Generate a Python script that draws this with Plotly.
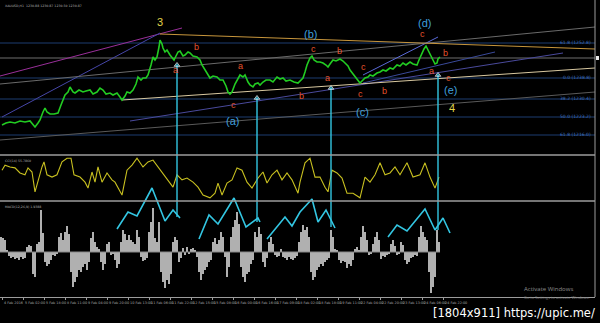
import plotly.graph_objects as go

# ---------------- data ----------------
price_x = [2, 6, 10, 15, 20, 25, 30, 33, 35, 38,
           40, 43, 45, 47, 50, 54, 58, 61, 65, 68,
           70, 73, 75, 79, 83, 86, 90, 93, 97, 100,
           103, 106, 110, 113, 117, 120, 122, 125, 127, 130,
           133, 136, 138, 141, 143, 146, 148, 151, 153, 155,
           157, 159, 160, 162, 163, 165, 167, 170, 172, 174,
           175, 178, 180, 183, 185, 188, 190, 193, 197, 200,
           202, 205, 207, 209, 210, 213, 217, 220, 223, 226,
           228, 230, 232, 235, 237, 239, 240, 243, 245, 248,
           250, 253, 255, 258, 260, 263, 266, 270, 273, 277,
           280, 283, 286, 290, 294, 298, 300, 303, 305, 307,
           310, 312, 314, 317, 320, 323, 326, 328, 330, 333,
           336, 340, 343, 345, 348, 350, 353, 355, 358, 360,
           362, 365, 368, 370, 373, 377, 380, 383, 386, 390,
           393, 397, 400, 403, 406, 410, 413, 417, 419, 422,
           424, 426, 428, 430, 432, 433, 435, 437, 438, 440]
price = [1220.0, 1220.8, 1221.2, 1220.8, 1221.6, 1221.2, 1221.6, 1220.4, 1219.2, 1220.8,
         1222.0, 1225.2, 1226.8, 1225.2, 1224.4, 1224.4, 1224.8, 1228.0, 1232.0, 1233.2,
         1235.2, 1233.2, 1232.8, 1234.0, 1233.2, 1233.6, 1234.0, 1232.4, 1233.2, 1234.8,
         1234.0, 1232.4, 1232.8, 1232.0, 1232.8, 1231.2, 1230.0, 1231.6, 1233.2, 1232.8,
         1234.0, 1236.4, 1239.2, 1238.0, 1238.8, 1238.8, 1240.0, 1244.0, 1247.2, 1246.0,
         1247.2, 1251.2, 1254.0, 1252.4, 1250.8, 1249.2, 1250.0, 1248.0, 1247.2, 1246.0,
         1246.8, 1249.2, 1249.6, 1247.6, 1248.0, 1249.2, 1248.8, 1247.6, 1247.2, 1246.0,
         1244.0, 1242.0, 1241.2, 1239.6, 1238.8, 1239.6, 1239.2, 1238.0, 1238.0, 1235.6,
         1233.2, 1232.4, 1233.2, 1236.4, 1238.0, 1239.2, 1240.0, 1239.2, 1240.0, 1237.2,
         1236.0, 1235.2, 1236.4, 1236.8, 1236.0, 1237.2, 1238.0, 1238.0, 1237.2, 1239.2,
         1238.4, 1238.8, 1237.6, 1238.0, 1237.2, 1236.8, 1237.6, 1238.8, 1241.2, 1244.0,
         1246.8, 1247.6, 1246.0, 1245.2, 1245.2, 1244.8, 1244.0, 1243.2, 1244.4, 1246.0,
         1245.6, 1246.4, 1245.6, 1244.8, 1243.6, 1242.0, 1240.4, 1239.2, 1238.0, 1236.8,
         1237.6, 1238.8, 1239.2, 1240.0, 1239.6, 1240.8, 1241.2, 1242.0, 1241.6, 1242.8,
         1242.4, 1244.0, 1243.6, 1244.8, 1244.0, 1245.2, 1244.4, 1244.0, 1246.0, 1248.8,
         1250.4, 1251.6, 1250.0, 1248.8, 1246.8, 1246.0, 1244.4, 1244.8, 1246.4, 1247.2]

osc_x = [2, 5, 10, 15, 20, 25, 28, 32, 35, 38, 42, 44, 47, 52, 57, 62, 67, 71, 74, 80, 85, 88, 92, 95, 98, 102,
         107, 112, 115, 122, 127, 132, 137, 143, 148, 153, 158, 163, 170, 173, 177, 182, 187, 193, 198, 203, 210,
         215, 218, 222, 227, 232, 237, 242, 247, 252, 258, 263, 267, 272, 277, 282, 287, 292, 298, 300, 305, 310,
         315, 320, 325, 328, 332, 337, 342, 347, 353, 360, 365, 370, 375, 380, 385, 390, 395, 400, 407, 413, 420,
         425, 430, 435, 439]
osc = [67, 78, 74, 72, 61, 57, 72, 63, 20, 46, 74, 85, 57, 52, 57, 85, 93, 93, 57, 52, 41, 28, 63, 41, 74, 41,
       61, 46, 41, 13, 67, 78, 93, 74, 85, 89, 74, 61, 39, 30, 57, 46, 50, 41, 30, 13, 7, 17, 39, 13, 39, 46, 72,
       67, 41, 28, 50, 63, 39, 57, 67, 46, 61, 46, 17, 41, 83, 93, 52, 52, 30, 20, 67, 61, 50, 17, 17, 7, 52, 41,
       57, 83, 57, 61, 74, 57, 83, 52, 57, 83, 52, 28, 52]

hist = [15, 14, 12, 2,
        -4, -6, -5, -7, -6, -8, -5, -7, -6,
        5, 7, 6, -22, -25, 8, 10, 42, 19,
        -10, -14, -12, -8, -3, -4, -2,
        15, 19, 12, 20, 26, 18,
        -20, -35, -30, -25, -18, -20, -15, -12, -18, -10,
        14, 20, 10, 5, 3, -10, -18, -12, 8, 10, -3, -2,
        -8, -16, -12, 10, 22, 18, 12, 17, 12, 10, 8, 22, 15,
        -5, -9, -8, -6, 20, 30, 44, 14, 10, 30,
        -20, -30, -36, -28, -32, -22, 10, 15, 12, -10, -6,
        4, -3, 5, -2, 3, 4, 2, -5,
        -20, -28, -22, -18, -15, -10, -8, 10, 14, 8,
        12, 20, 15, -5, -25, -15, 15, 25, 32, 40, 28,
        -15, -25, -30, -22, -20, -12, -8, 20, 15, 25, 18,
        -10, -15, -6, 10, 15, 8, -3, -5, -4, 3, -5,
        -6, -8, -5, -7, -8, -6, -4, 10,
        20, 27, 22, 25, 15, -20, -28, -25, -18, -15, -12, -14,
        -10, -8, -6, 22, 15, 3, 2, -8, -11, -9, -10,
        -16, -12, -14, -8, 3, 5, 2, 15, 26, 20, 12, -3, -2,
        8, 15, 20, 12, -7, -4, -5, -3, -2, 8, 12, 6, -3, -2,
        10, 7, -8, -12, -10, -6, -5, -3, -4, 15, 26, 20, 15, 12,
        -20, -41, -35, -25, 22, 10]
hist_x = [1 + 2 * i for i in range(len(hist))]

# zigzag wave sketches drawn on the histogram pane
zig_x = [[117, 128, 137, 152, 165, 173, 180],
         [199, 209, 218, 234, 246, 258, 260],
         [267, 285, 292, 300, 312, 318, 326, 335],
         [388, 397, 407, 425, 435, 443, 450]]
zig_v = [[23, 40, 36, 64, 31, 42, 34],
         [13, 37, 28, 54, 25, 34, 30],
         [13, 35, 26, 40, 53, 30, 42, 24],
         [15, 27, 21, 43, 22, 34, 19]]

# vertical arrows: bar, top price, bottom histogram value
arrow_x = [177, 257, 331, 438]
arrow_top = [1244.0, 1230.8, 1234.8, 1240.0]
arrow_bot = [35, 30, 25, 22]

# horizontal fibonacci levels
fib_levels = [1252.8, 1246.8, 1238.8, 1230.4, 1223.2, 1216.0]
fib_colors = ['#1d3d70', '#6e6e6e', '#1d3d70', '#1d3d70', '#1d3d70', '#1d3d70']
fib_labels = {1252.8: '61.8 (1252.8)', 1238.8: '0.0 (1238.8)', 1230.4: '38.2 (1230.4)',
              1223.2: '50.0 (1223.2)', 1216.0: '61.8 (1216.0)'}

# trend lines: (x0, p0, x1, p1, colour)
trend_lines = [
    (0, 1239.6, 182, 1258.8, '#9a2f9a'),
    (2, 1223.2, 160, 1256.8, '#4646a8'),
    (0, 1236.4, 595, 1259.2, '#6a6a6a'),
    (0, 1214.0, 595, 1233.2, '#5a5a5a'),
    (130, 1221.6, 563, 1248.8, '#4a4a9c'),
    (363, 1236.8, 495, 1249.2, '#3a4a9a'),
    (363, 1240.0, 438, 1255.2, '#5a6ad8'),
    (160, 1256.4, 595, 1250.4, '#c8963c'),
    (122, 1230.0, 595, 1242.8, '#d8c8a0'),
]

# wave labels: (bar, price, text, kind)
wave_labels = [
    (160, 1261.2, '3', 'y'), (196, 1251.2, 'b', 'r'), (175, 1242.0, 'a', 'r'),
    (240, 1243.6, 'a', 'r'), (233, 1228.0, 'c', 'r'), (232, 1221.6, '(a)', 'c'),
    (301, 1231.6, 'b', 'r'), (310, 1256.4, '(b)', 'c'), (313, 1250.4, 'c', 'r'),
    (339, 1249.6, 'b', 'r'), (327, 1238.8, 'a', 'r'), (363, 1243.2, 'c', 'r'),
    (360, 1232.4, 'c', 'r'), (384, 1233.6, 'b', 'r'), (362, 1225.2, '(c)', 'c'),
    (424, 1260.8, '(d)', 'c'), (422, 1256.4, 'c', 'r'), (445, 1248.8, 'b', 'r'),
    (431, 1241.6, 'a', 'r'), (448, 1238.8, 'c', 'r'), (450, 1234.0, '(e)', 'c'),
    (452, 1226.8, '4', 'y'),
]

date_x = [2, 23, 44, 65, 86, 107, 128, 149, 170, 191, 212, 233, 254, 275, 296, 317, 338, 359, 380, 401, 422, 443]
date_labels = ['4 Feb 2016', '5 Feb 02:00', '5 Feb 18:00', '8 Feb 11:00', '9 Feb 04:00', '9 Feb 20:00',
               '10 Feb 13:00', '11 Feb 06:00', '11 Feb 22:00', '12 Feb 15:00', '15 Feb 08:00', '16 Feb 00:00',
               '16 Feb 16:00', '17 Feb 09:00', '18 Feb 02:00', '18 Feb 18:00', '19 Feb 11:00', '22 Feb 04:00',
               '22 Feb 20:00', '23 Feb 13:00', '24 Feb 06:00', '24 Feb 22:00']

# ---------------- layout geometry ----------------
W, H = 600, 323
ML, MR, MT, MB = 0, 5, 0, 26
PW, PH = W - ML - MR, H - MT - MB


def py(ypx):
    return (PH - ypx) / PH


def pxx(xpx):
    return xpx / PW


main_dom = [py(155), 1]
osc_dom = [py(201), py(155)]
hist_dom = [0, py(155)]

CYAN = '#33c6e2'
fig = go.Figure()

for lv, col in zip(fib_levels, fib_colors):
    fig.add_trace(go.Scatter(x=[0, 595], y=[lv, lv], mode='lines', line=dict(color=col, width=1),
                             yaxis='y', hoverinfo='skip'))

for x0, p0, x1, p1, col in trend_lines:
    fig.add_trace(go.Scatter(x=[x0, x1], y=[p0, p1], mode='lines', line=dict(color=col, width=1),
                             yaxis='y', hoverinfo='skip'))

fig.add_trace(go.Scatter(x=price_x, y=price, mode='lines', line=dict(color='#22cc22', width=1.6),
                         yaxis='y'))

fig.add_trace(go.Bar(x=hist_x, y=hist, width=1.5, marker=dict(color='#b0b0b0', line=dict(width=0)),
                     yaxis='y3'))

fig.add_trace(go.Scatter(x=osc_x, y=osc, mode='lines', line=dict(color='#c8c020', width=1.1),
                         yaxis='y2'))

for zx, zv in zip(zig_x, zig_v):
    fig.add_trace(go.Scatter(x=zx, y=zv, mode='lines', line=dict(color=CYAN, width=1.6), yaxis='y3'))

for ax_, top, bot in zip(arrow_x, arrow_top, arrow_bot):
    fig.add_trace(go.Scatter(x=[ax_, ax_], y=[bot, 110], mode='lines', line=dict(color=CYAN, width=1.4),
                             yaxis='y3'))
    fig.add_trace(go.Scatter(x=[ax_, ax_], y=[1200, top], mode='lines+markers',
                             line=dict(color=CYAN, width=1.4),
                             marker=dict(symbol=['circle', 'triangle-up'], size=[0, 5], color=CYAN),
                             yaxis='y'))

shapes = []
shapes.append(dict(type='line', xref='x', yref='y3', x0=0, x1=440, y0=0, y1=0,
                   line=dict(color='#8a8a8a', width=1)))
for yy in (155, 201):
    shapes.append(dict(type='line', xref='paper', yref='paper', x0=0, x1=1, y0=py(yy), y1=py(yy),
                       line=dict(color='#9c9c9c', width=1.3)))
shapes.append(dict(type='line', xref='paper', yref='paper', x0=1, x1=1, y0=0, y1=1,
                   line=dict(color='#9c9c9c', width=1)))
shapes.append(dict(type='rect', xref='paper', yref='paper', x0=pxx(596), x1=pxx(599), y0=py(60), y1=py(56),
                   fillcolor='#e8e8e8', line=dict(width=0)))

ann = []
kind_style = {'r': ('#e4522c', 9), 'c': ('#3f9fdc', 11), 'y': ('#e2d44a', 11)}
for bx, pr, txt, kind in wave_labels:
    col, sz = kind_style[kind]
    ann.append(dict(x=bx, y=pr, xref='x', yref='y', text=txt, showarrow=False,
                    font=dict(color=col, size=sz, family='Liberation Sans, Arial')))

for lv, txt in fib_labels.items():
    ann.append(dict(x=593, y=lv, xref='x', yref='y', text=txt, showarrow=False, xanchor='right',
                    yanchor='middle', yshift=1, font=dict(color='#3f6fbf', size=4.5, family='DejaVu Sans')))

for dx, dl in zip(date_x, date_labels):
    ann.append(dict(x=dx, y=py(299), xref='x', yref='paper', text=dl, showarrow=False, xanchor='left',
                    yanchor='top', font=dict(color='#a8a8a8', size=3.4, family='DejaVu Sans')))

small = dict(color='#b0b0b0', size=3.2, family='DejaVu Sans')
ann.append(dict(x=pxx(3), y=py(1.5), xref='paper', yref='paper', text='XAUUSD,H1  1230.88 1230.87 1230.50 1230.87',
                showarrow=False, xanchor='left', yanchor='top', font=small))
ann.append(dict(x=pxx(3), y=py(156.5), xref='paper', yref='paper', text='CCI(14) 55.7860',
                showarrow=False, xanchor='left', yanchor='top', font=small))
ann.append(dict(x=pxx(3), y=py(202.5), xref='paper', yref='paper', text='MACD(12,26,9) 1.9388',
                showarrow=False, xanchor='left', yanchor='top', font=small))

ann.append(dict(x=pxx(522), y=py(288.5), xref='paper', yref='paper', text='Activate Windows', showarrow=False,
                xanchor='left', yanchor='middle', font=dict(color='#8c8c8c', size=6, family='Open Sans')))
ann.append(dict(x=pxx(522), y=py(297.5), xref='paper', yref='paper', text='Go to Settings to activate Windows.',
                showarrow=False, xanchor='left', yanchor='middle',
                font=dict(color='#7c7c7c', size=4, family='Open Sans')))
ann.append(dict(x=pxx(597), y=py(313), xref='paper', yref='paper', text='[1804x911] https://upic.me/',
                showarrow=False, xanchor='right', yanchor='middle',
                font=dict(color='#ffffff', size=11.5, family='DejaVu Sans')))

fig.update_layout(
    width=W, height=H, margin=dict(l=ML, r=MR, t=MT, b=MB),
    paper_bgcolor='black', plot_bgcolor='rgba(0,0,0,0)', showlegend=False,
    xaxis=dict(range=[0, 595], anchor='free', position=0, showgrid=False, zeroline=False,
               showline=True, linecolor='#9c9c9c', linewidth=1, ticks='outside', ticklen=2,
               tickcolor='#9c9c9c', tickvals=date_x, showticklabels=False),
    yaxis=dict(domain=main_dom, range=[1208, 1270], visible=False),
    yaxis2=dict(domain=osc_dom, range=[0, 100], visible=False, anchor='x'),
    yaxis3=dict(domain=hist_dom, range=[-45, 97], visible=False, anchor='x'),
    shapes=shapes, annotations=ann, bargap=0,
)

fig.write_html('out.html')
